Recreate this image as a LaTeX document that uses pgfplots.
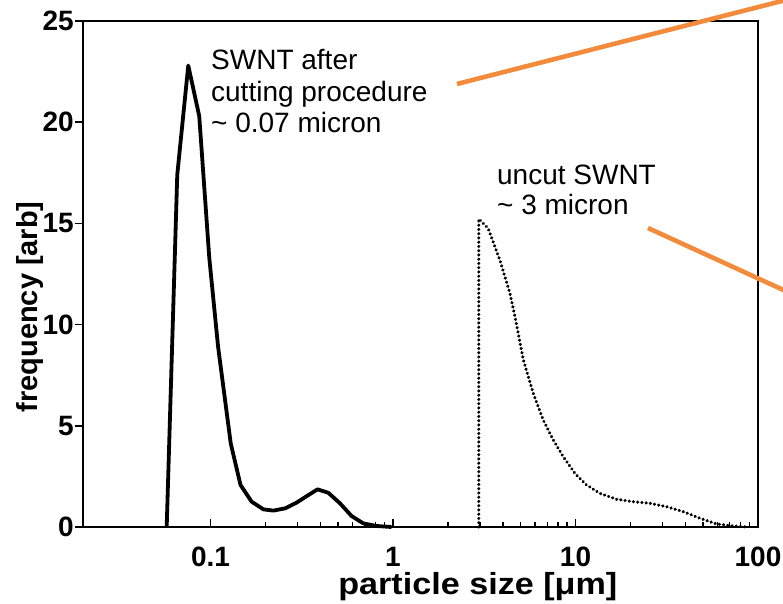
\documentclass[border=0pt]{standalone}
\usepackage{fontspec}
\setmainfont{Liberation Sans}
\newfontfamily\widebf[FakeStretch=1.12]{Liberation Sans}
\usepackage{pgfplots}
\pgfplotsset{compat=1.18}
\definecolor{annot}{RGB}{242,140,60}

\begin{document}
\begin{tikzpicture}
\begin{axis}[
  name=ax,
  scale only axis,
  width=675pt, height=506pt,
  xmode=log, xmin=0.02, xmax=100,
  ymin=0, ymax=25,
  xtick={0.1,1,10,100}, xticklabels={0.1,1,10,100},
  ytick={0,5,10,15,20,25}, yticklabels={0,5,10,15,20,25},
  tick pos=left,
  ytick align=outside,
  major tick length=8pt, minor tick length=5pt,
  tick style={line width=1.5pt,black},
  axis line style={line width=1.7pt},
  ticklabel style={font=\fontsize{28}{28}\selectfont\bfseries},
  xticklabel style={inner sep=0pt, yshift=-20pt},
  yticklabel style={inner sep=0pt, xshift=-1pt},
  xlabel={particle size [μm]},
  ylabel={frequency [arb]},
  xlabel style={at={(axis description cs:0.373,-0.1344)}, anchor=base west,
    font=\widebf\fontsize{30.5}{30.5}\selectfont\bfseries},
  ylabel style={at={(axis description cs:-0.068,0.435)}, anchor=base,
    font=\fontsize{29}{29}\selectfont\bfseries},
  clip=false,
]
% cut SWNT
\addplot[black, line width=3.8pt, line join=round] coordinates {
  (0.0575,0) (0.0657,17.4) (0.0755,22.8) (0.0867,20.3) (0.0984,13.3)
  (0.110,8.9) (0.129,4.13) (0.146,2.07) (0.168,1.25) (0.195,0.87)
  (0.221,0.81) (0.256,0.92) (0.296,1.2) (0.337,1.53) (0.386,1.86)
  (0.442,1.69) (0.512,1.17) (0.593,0.54) (0.687,0.18) (0.81,0.05) (0.98,0)
};
% uncut SWNT
\addplot[black, line width=3.4pt, line cap=round, dash pattern=on 0.05pt off 4.2pt] coordinates {
  (2.95,0) (2.95,15.22) (3.32,14.76) (3.85,13.19) (4.37,11.55) (4.66,10.39)
  (5.18,8.25) (5.87,6.6) (6.65,5.29) (7.55,4.30) (8.57,3.47) (9.93,2.65)
  (11.5,2.08) (13.6,1.66) (16.8,1.37) (20.7,1.25) (25.6,1.17) (31.6,1.0)
  (38.9,0.76) (48.1,0.43) (59.3,0.15) (73.1,0.05) (88.3,0)
};
\begin{scope}[every node/.style={anchor=base west, inner sep=0pt,
    font=\fontsize{28}{28}\selectfont}]
\node at (axis description cs:0.1896,0.9032) {SWNT after};
\node at (axis description cs:0.1896,0.8405) {cutting procedure};
\node at (axis description cs:0.1896,0.7792) {\textasciitilde{} 0.07 micron};
\node at (axis description cs:0.6133,0.6759) {uncut SWNT};
\node at (axis description cs:0.6133,0.6166) {\textasciitilde{} 3 micron};
\end{scope}
\draw[annot, line width=4.6pt] (axis description cs:0.554,0.8755) -- (axis description cs:1.0622,1.0486);
\draw[annot, line width=4.6pt] (axis description cs:0.837,0.5909) -- (axis description cs:1.0622,0.4534);
\end{axis}
\pgfresetboundingbox
\path[use as bounding box] ([shift={(-83pt,-77pt)}]ax.south west) rectangle ([shift={(25pt,21pt)}]ax.north east);
\end{tikzpicture}
\end{document}
